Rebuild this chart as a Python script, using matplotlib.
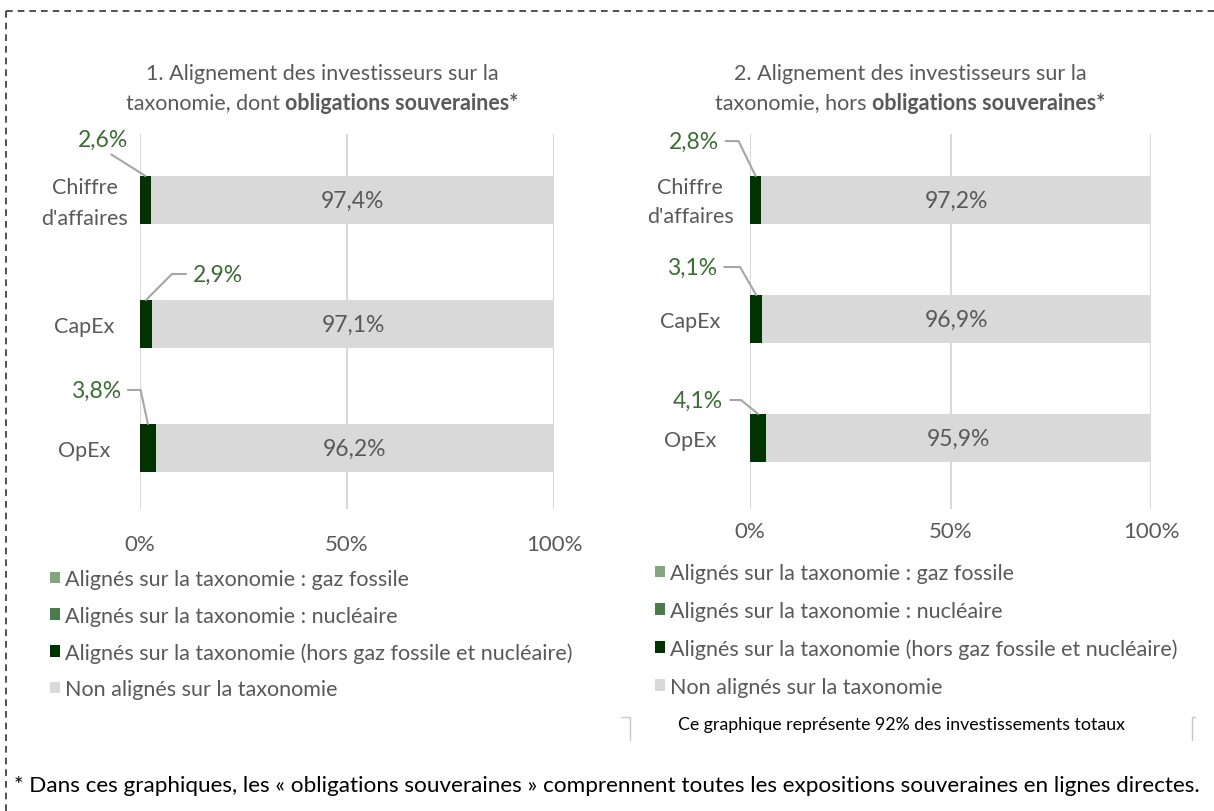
import matplotlib
matplotlib.use("Agg")
import matplotlib.pyplot as plt
from matplotlib.lines import Line2D
from matplotlib.transforms import ScaledTranslation

plt.rcParams['font.family'] = ['Lato', 'DejaVu Sans']

W, H = 1214, 812

# ---------------- data ----------------
categories = ["Chiffre\nd'affaires", "CapEx", "OpEx"]
series_names = ["Alignés sur la taxonomie : gaz fossile",
                "Alignés sur la taxonomie : nucléaire",
                "Alignés sur la taxonomie (hors gaz fossile et nucléaire)",
                "Non alignés sur la taxonomie"]
# chart 1 : dont obligations souveraines
c1_gaz = [0.0, 0.0, 0.0]
c1_nuc = [0.0, 0.0, 0.0]
c1_aligned = [2.6, 2.9, 3.8]
c1_non = [97.4, 97.1, 96.2]
# chart 2 : hors obligations souveraines
c2_gaz = [0.0, 0.0, 0.0]
c2_nuc = [0.0, 0.0, 0.0]
c2_aligned = [2.8, 3.1, 4.1]
c2_non = [97.2, 96.9, 95.9]
xticks = [0, 50, 100]
xtick_labels = ["0%", "50%", "100%"]

colors = ["#84a67f", "#4b7a4b", "#003300", "#d9d9d9"]
GRAY = "#595959"
GREEN_TXT = "#3a6e32"
LEADER = "#a6a6a6"


def fx(px):
    return px / W


def fy(py):
    return 1 - py / H


def pct(v):
    return f"{v:.1f}%".replace(".", ",")


fig = plt.figure(figsize=(W / 100, H / 100), dpi=100)


def draw_chart(rect, ylim, bar_h, gaz, nuc, aligned, non, ypad, xpad, lsp, leaders):
    ax = fig.add_axes(rect)
    ys = list(range(len(categories)))
    left = [0.0] * len(ys)
    conts = []
    for vals, col, name in zip([gaz, nuc, aligned, non], colors, series_names):
        c = ax.barh(ys, vals, left=left, height=bar_h, color=col, label=name, zorder=3)
        conts.append(c)
        left = [a + b for a, b in zip(left, vals)]
    ax.bar_label(conts[3], labels=[pct(v) for v in non], label_type='center',
                 color=GRAY, fontsize=16.5)
    ax.set_xlim(0, 100)
    ax.set_ylim(*ylim)
    ax.set_xticks(xticks)
    ax.set_xticklabels(xtick_labels, color=GRAY, fontsize=16)
    ax.set_yticks(ys)
    ax.set_yticklabels(categories, color=GRAY, fontsize=15.5, ha='center',
                       linespacing=lsp)
    ax.tick_params(axis='both', length=0)
    ax.tick_params(axis='x', pad=xpad)
    ax.tick_params(axis='y', pad=ypad)
    # lift the two-line label slightly so it is centred on its bar
    for lab in ax.get_yticklabels():
        if "\n" in lab.get_text():
            lab.set_transform(lab.get_transform() +
                              ScaledTranslation(0, 5 / 100, fig.dpi_scale_trans))
    for s in ax.spines.values():
        s.set_visible(False)
    ax.grid(axis='x', color='#d9d9d9', lw=1.5, zorder=0)
    ax.set_axisbelow(True)
    # leader labels for aligned share
    for i, (v, (dx, dy, rel, conn)) in enumerate(zip(aligned, leaders)):
        ax.annotate(pct(v), xy=(v / 2, i - bar_h / 2), xycoords='data',
                    xytext=(dx, dy), textcoords='offset pixels',
                    ha='center', va='center', color=GREEN_TXT, fontsize=16.5,
                    annotation_clip=False, zorder=5,
                    arrowprops=dict(arrowstyle='-', color=LEADER, lw=1.5,
                                    shrinkA=3, shrinkB=0, relpos=rel,
                                    connectionstyle=conn))
    return ax, conts


leaders1 = [(-42, 37, (0.5, 0.0), "arc3,rad=0"),
            (72, 26, (0.0, 0.5), "angle,angleA=0,angleB=45,rad=0"),
            (-52, 34, (1.0, 0.5), "angle,angleA=0,angleB=102,rad=0")]
leaders2 = [(-62, 35, (1.0, 0.5), "angle,angleA=0,angleB=116,rad=0"),
            (-64, 28, (1.0, 0.5), "angle,angleA=0,angleB=120,rad=0"),
            (-60, 14, (1.0, 0.5), "angle,angleA=0,angleB=141,rad=0")]

ax1, conts1 = draw_chart([fx(140), fy(510), fx(554) - fx(140), fy(135) - fy(510)],
                         (2.492, -0.532), 0.387,
                         c1_gaz, c1_nuc, c1_aligned, c1_non, 40, 18, 1.7, leaders1)
ax2, conts2 = draw_chart([fx(750), fy(510), fx(1151) - fx(750), fy(135) - fy(510)],
                         (2.597, -0.555), 0.403,
                         c2_gaz, c2_nuc, c2_aligned, c2_non, 43, 9, 1.55, leaders2)

# legends
for ax, conts, x0, y0, sp in [(ax1, conts1, 50, 570, 0.77), (ax2, conts2, 655, 564, 0.82)]:
    fig.legend(handles=conts, labels=series_names, loc='upper left',
               bbox_to_anchor=(fx(x0), fy(y0)), bbox_transform=fig.transFigure,
               frameon=False, fontsize=15.5, labelcolor=GRAY,
               handlelength=0.45, handleheight=0.45, handletextpad=0.25,
               labelspacing=sp, borderpad=0, borderaxespad=0)

# titles with a bold part
renderer = fig.canvas.get_renderer()
TSIZE = 15.5


def title(cx, y1, y2, line1, plain2, bold2):
    fig.text(fx(cx), fy(y1), line1, ha='center', va='center', color=GRAY, fontsize=TSIZE)
    ta = fig.text(0, fy(y2), plain2, ha='left', va='center', color=GRAY, fontsize=TSIZE)
    tb = fig.text(0, fy(y2), bold2, ha='left', va='center', color=GRAY, fontsize=TSIZE,
                  fontweight='bold')
    wa = ta.get_window_extent(renderer).width
    wb = tb.get_window_extent(renderer).width
    x0 = cx - (wa + wb) / 2
    ta.set_x(fx(x0))
    tb.set_x(fx(x0 + wa))


title(322, 74, 103, "1. Alignement des investisseurs sur la",
      "taxonomie, dont ", "obligations souveraines*")
title(910, 74, 103, "2. Alignement des investisseurs sur la",
      "taxonomie, hors ", "obligations souveraines*")

# note & brackets
fig.text(fx(678), fy(725), "Ce graphique représente 92% des investissements totaux",
         ha='left', va='center', color='black', fontsize=12.8)
for xs, ys_ in [([621, 630, 630], [718, 718, 741]), ([1195, 1192, 1192], [718, 718, 741])]:
    fig.add_artist(Line2D([fx(x) for x in xs], [fy(y) for y in ys_],
                          transform=fig.transFigure, color='#c8c8c8', lw=1))

# footnote
fig.text(fx(14), fy(786),
         "* Dans ces graphiques, les « obligations souveraines » comprennent toutes les expositions souveraines en lignes directes.",
         ha='left', va='center', color='black', fontsize=16.2)

# dashed border
fig.add_artist(Line2D([fx(6), fx(W)], [fy(12), fy(12)], transform=fig.transFigure,
                      color='#333333', lw=1.2, linestyle=(0, (4, 3))))
fig.add_artist(Line2D([fx(6), fx(6)], [fy(12), fy(H)], transform=fig.transFigure,
                      color='#333333', lw=1.2, linestyle=(0, (4, 3))))

fig.savefig("out.png", dpi=100)
